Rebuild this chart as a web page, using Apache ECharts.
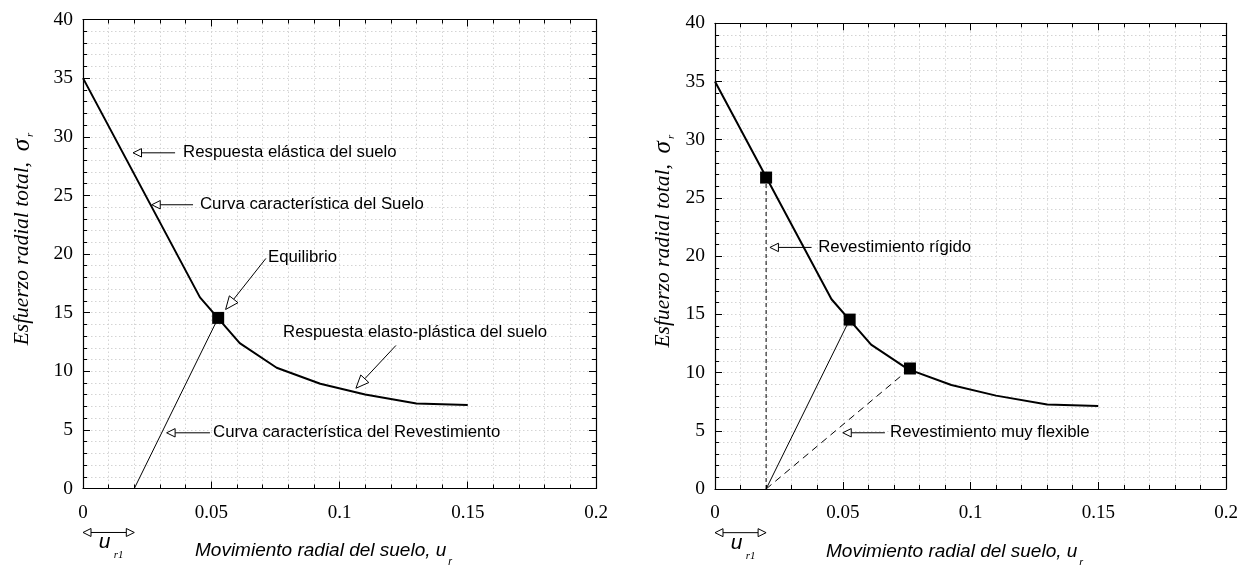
<!DOCTYPE html>
<html><head><meta charset="utf-8">
<script src="https://cdn.jsdelivr.net/npm/echarts@6/dist/echarts.min.js"></script>
<style>html,body{margin:0;padding:0;background:#fff}#c{width:1249px;height:565px}</style>
</head><body><div id="c"></div>
<script>
// ---- data ----
const groundU = [0, 0.0456, 0.0611, 0.0755, 0.0925, 0.110, 0.130, 0.150];
const groundS = [35, 16.3, 12.4, 10.3, 8.93, 8.02, 7.25, 7.12];
const ur1 = 0.02;
const equilibrium = [0.0527, 14.55];
const rigidPoint = [0.02, 26.75];
const flexiblePoint = [0.0763, 10.35];
const xTicks = [0, 0.05, 0.1, 0.15, 0.2];
const yTicks = [0, 5, 10, 15, 20, 25, 30, 35, 40];

// annotations (data coordinates): arrow tip, arrow tail, label anchor
const leftLabels = ['Respuesta elástica del suelo', 'Curva característica del Suelo', 'Equilibrio',
  'Respuesta elasto-plástica del suelo', 'Curva característica del Revestimiento'];
const leftTips  = [[0.0195, 28.63], [0.0268, 24.2], [0.0556, 15.27], [0.1064, 8.55], [0.0326, 4.75]];
const leftTails = [[0.0359, 28.63], [0.0429, 24.2], [0.0713, 19.62], [0.1220, 12.2], [0.0495, 4.75]];
const leftAnchors = [[0.0390, 28.63], [0.0456, 24.2], [0.0721, 19.73], [0.0780, 13.34], [0.0507, 4.75]];

const rightLabels = ['Revestimiento rígido', 'Revestimiento muy flexible'];
const rightTips  = [[0.0215, 20.75], [0.0500, 4.83]];
const rightTails = [[0.0378, 20.75], [0.0665, 4.83]];
const rightAnchors = [[0.0404, 20.75], [0.0685, 4.83]];

const ur1ArrowLevel = -3.75;

// ---- helpers ----
const serif = 'Liberation Serif';
const sans = 'Liberation Sans';
const gridLine = {show: true, lineStyle: {color: '#d4d4d4', type: [1.5, 2.5], width: 1}};

function xAxes(gi) {
  const common = {
    gridIndex: gi, type: 'value', min: 0, max: 0.2, interval: 0.05,
    axisLine: {show: true, onZero: false, lineStyle: {color: '#000', width: 1.2}},
    axisTick: {show: true, inside: true, length: 7, lineStyle: {color: '#000', width: 1}},
    minorTick: {show: true, splitNumber: 5, length: 4, lineStyle: {color: '#000', width: 1}}
  };
  return [
    Object.assign({}, common, {
      position: 'bottom',
      splitLine: gridLine, minorSplitLine: gridLine,
      axisLabel: {show: true, color: '#000', fontFamily: serif, fontSize: 19, margin: 15,
        formatter: v => xTicks.includes(+v.toFixed(4)) ? String(+v.toFixed(4)) : ''},
      name: '{t|Movimiento radial del suelo, u}{s|r}',
      nameLocation: 'middle', nameGap: 46,
      nameTextStyle: {rich: {
        t: {fontFamily: sans, fontStyle: 'italic', fontSize: 19, color: '#000'},
        s: {fontFamily: sans, fontStyle: 'italic', fontSize: 11, color: '#000', padding: [22, 32, 0, 2]}
      }}
    }),
    Object.assign({}, common, {
      position: 'top', axisLabel: {show: false}, splitLine: {show: false}
    })
  ];
}
function yAxes(gi, gap) {
  const common = {
    gridIndex: gi, type: 'value', min: 0, max: 40, interval: 5,
    axisLine: {show: true, onZero: false, lineStyle: {color: '#000', width: 1.2}},
    axisTick: {show: true, inside: true, length: 7, lineStyle: {color: '#000', width: 1}},
    minorTick: {show: true, splitNumber: 5, length: 4, lineStyle: {color: '#000', width: 1}}
  };
  return [
    Object.assign({}, common, {
      position: 'left',
      splitLine: gridLine, minorSplitLine: gridLine,
      axisLabel: {show: true, color: '#000', fontFamily: serif, fontSize: 19.5, margin: 10,
        formatter: v => yTicks.includes(v) ? String(v) : ''},
      name: '{t|Esfuerzo radial total,  }{g|σ}{s|r}',
      nameLocation: 'middle', nameRotate: 90, nameGap: gap,
      nameTextStyle: {rich: {
        t: {fontFamily: serif, fontStyle: 'italic', fontSize: 21.5, color: '#000', padding: [0, 0, 0, 30]},
        g: {fontFamily: serif, fontStyle: 'italic', fontSize: 25, color: '#000'},
        s: {fontFamily: serif, fontStyle: 'italic', fontSize: 11, color: '#000', padding: [16, 0, 0, 2]}
      }}
    }),
    Object.assign({}, common, {
      position: 'right', axisLabel: {show: false}, splitLine: {show: false}
    })
  ];
}

function annotationSeries(xi, yi, labels, tips, tails, anchors, heads) {
  return {
    type: 'custom', coordinateSystem: 'cartesian2d', xAxisIndex: xi, yAxisIndex: yi,
    silent: true, z: 10,
    data: labels.map((l, i) => [tips[i][0], tips[i][1], tails[i][0], tails[i][1], anchors[i][0], anchors[i][1], i]),
    encode: {x: [0, 2, 4], y: [1, 3, 5]},
    renderItem: function (params, api) {
      const tip = api.coord([api.value(0), api.value(1)]);
      const tail = api.coord([api.value(2), api.value(3)]);
      const lab = api.coord([api.value(4), api.value(5)]);
      const idx = api.value(6);
      const h = heads[idx];
      const ang = Math.atan2(tail[1] - tip[1], tail[0] - tip[0]);
      const c = Math.cos(ang), s = Math.sin(ang);
      const b = [tip[0] + h[0] * c, tip[1] + h[0] * s];
      const p1 = [b[0] - h[1] * s, b[1] + h[1] * c];
      const p2 = [b[0] + h[1] * s, b[1] - h[1] * c];
      return {type: 'group', children: [
        {type: 'line', shape: {x1: b[0], y1: b[1], x2: tail[0], y2: tail[1]}, style: {stroke: '#000', lineWidth: 1}},
        {type: 'polygon', shape: {points: [tip, p1, p2]}, style: {fill: '#fff', stroke: '#000', lineWidth: 1}},
        {type: 'text', x: lab[0], y: lab[1], style: {text: labels[idx], fontFamily: sans, fontSize: 16.8,
          fill: '#000', align: 'left', verticalAlign: 'middle'}}
      ]};
    }
  };
}

function ur1Series(xi, yi) {
  return {
    type: 'custom', coordinateSystem: 'cartesian2d', xAxisIndex: xi, yAxisIndex: yi,
    silent: true, clip: false, z: 10,
    data: [[0, ur1ArrowLevel, ur1, ur1ArrowLevel]],
    encode: {x: [0, 2], y: [1, 3]},
    renderItem: function (params, api) {
      const a = api.coord([api.value(0), api.value(1)]);
      const b = api.coord([api.value(2), api.value(3)]);
      const L = 8, W = 4;
      const mid = (a[0] + b[0]) / 2;
      return {type: 'group', children: [
        {type: 'line', shape: {x1: a[0] + L, y1: a[1], x2: b[0] - L, y2: b[1]}, style: {stroke: '#000', lineWidth: 1}},
        {type: 'polygon', shape: {points: [[a[0], a[1]], [a[0] + L, a[1] - W], [a[0] + L, a[1] + W]]}, style: {fill: '#fff', stroke: '#000', lineWidth: 1}},
        {type: 'polygon', shape: {points: [[b[0], b[1]], [b[0] - L, b[1] - W], [b[0] - L, b[1] + W]]}, style: {fill: '#fff', stroke: '#000', lineWidth: 1}},
        {type: 'text', x: mid - 4, y: a[1] + 10, style: {text: 'u', fontFamily: sans, fontStyle: 'italic', fontSize: 21, fill: '#000', align: 'center', verticalAlign: 'middle'}},
        {type: 'text', x: mid + 10, y: a[1] + 23, style: {text: 'r1', fontFamily: serif, fontStyle: 'italic', fontSize: 11, fill: '#000', align: 'center', verticalAlign: 'middle'}}
      ]};
    }
  };
}

const pairs = (us, ss) => us.map((u, i) => [u, ss[i]]);
const markerStyle = {color: '#000', opacity: 1, borderWidth: 0};

const option = {
  animation: false,
  backgroundColor: '#fff',
  grid: [
    {left: 83, top: 19.5, width: 513, height: 469, outerBoundsMode: 'none', containLabel: false},
    {left: 715, top: 23.3, width: 511, height: 465.7, outerBoundsMode: 'none', containLabel: false}
  ],
  xAxis: [...xAxes(0), ...xAxes(1)],
  yAxis: [...yAxes(0, 47), ...yAxes(1, 38)],
  series: [
    // left chart
    {type: 'line', xAxisIndex: 0, yAxisIndex: 0, data: pairs(groundU, groundS), symbol: 'none',
      lineStyle: {color: '#000', width: 2}, z: 5},
    {type: 'line', xAxisIndex: 0, yAxisIndex: 0, data: [[ur1, 0], equilibrium], symbol: 'none',
      lineStyle: {color: '#000', width: 1}, z: 5},
    {type: 'scatter', xAxisIndex: 0, yAxisIndex: 0, data: [equilibrium], symbol: 'rect', symbolSize: 12,
      itemStyle: markerStyle, z: 6},
    annotationSeries(0, 0, leftLabels, leftTips, leftTails, leftAnchors,
      [[8.5, 4.2], [8.5, 4.2], [13, 5.5], [13, 5.5], [8.5, 4.2]]),
    ur1Series(0, 0),
    // right chart
    {type: 'line', xAxisIndex: 2, yAxisIndex: 2, data: pairs(groundU, groundS), symbol: 'none',
      lineStyle: {color: '#000', width: 2}, z: 5},
    {type: 'line', xAxisIndex: 2, yAxisIndex: 2, data: [[ur1, 0], equilibrium], symbol: 'none',
      lineStyle: {color: '#000', width: 1}, z: 5},
    {type: 'line', xAxisIndex: 2, yAxisIndex: 2, data: [[ur1, 0], rigidPoint], symbol: 'none',
      lineStyle: {color: '#000', width: 1, type: [4, 3]}, z: 5},
    {type: 'line', xAxisIndex: 2, yAxisIndex: 2, data: [[ur1, 0], flexiblePoint], symbol: 'none',
      lineStyle: {color: '#000', width: 1, type: [7, 5]}, z: 5},
    {type: 'scatter', xAxisIndex: 2, yAxisIndex: 2, data: [rigidPoint, equilibrium, flexiblePoint],
      symbol: 'rect', symbolSize: 12, itemStyle: markerStyle, z: 6},
    annotationSeries(2, 2, rightLabels, rightTips, rightTails, rightAnchors, [[8.5, 4.2], [8.5, 4.2]]),
    ur1Series(2, 2)
  ]
};
const chart = echarts.init(document.getElementById('c'), null, {renderer: 'canvas'});
chart.setOption(option);
</script></body></html>
